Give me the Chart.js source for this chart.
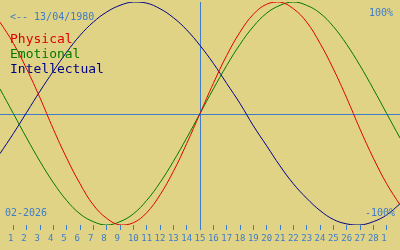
<!DOCTYPE html>
<html>
<head>
<meta charset="utf-8">
<script src="https://cdn.jsdelivr.net/npm/chart.js@4.4.1/dist/chart.umd.min.js"></script>
<style>
  html, body { margin: 0; padding: 0; background: #e0d385; }
  #wrap { width: 400px; height: 250px; }
</style>
</head>
<body>
<div id="wrap"><canvas id="bioChart" width="400" height="250"></canvas></div>
<script>
// Jours du mois (index 0 = veille du 1er, 30 = lendemain du 1er mars)
const days = [0, 1, 2, 3, 4, 5, 6, 7, 8, 9, 10, 11, 12, 13, 14, 15, 16, 17, 18, 19, 20, 21, 22, 23, 24, 25, 26, 27, 28, 29, 30];

// Valeurs (-1 = -100%, 1 = 100%)
const physical = [0.82, 0.63, 0.40, 0.14, -0.14, -0.40, -0.63, -0.82, -0.94, -1.00, -0.98, -0.89, -0.73, -0.52, -0.27, 0,
                  0.27, 0.52, 0.73, 0.89, 0.98, 1.00, 0.94, 0.82, 0.63, 0.40, 0.14, -0.14, -0.40, -0.63, -0.82];
const emotional = [0.22, 0, -0.22, -0.43, -0.62, -0.78, -0.90, -0.97, -1.00, -0.97, -0.90, -0.78, -0.62, -0.43, -0.22, 0,
                   0.22, 0.43, 0.62, 0.78, 0.90, 0.97, 1.00, 0.97, 0.90, 0.78, 0.62, 0.43, 0.22, 0, -0.22];
const intellectual = [-0.36, -0.18, 0.01, 0.20, 0.38, 0.55, 0.70, 0.82, 0.91, 0.97, 1.00, 0.99, 0.94, 0.86, 0.75, 0.61,
                      0.45, 0.27, 0.09, -0.11, -0.29, -0.47, -0.63, -0.76, -0.87, -0.95, -0.99, -1.00, -0.97, -0.91, -0.81];

// Graduations de l'axe des jours
const tickValues = [1, 2, 3, 4, 5, 6, 7, 8, 9, 10, 11, 12, 13, 14, 15, 16, 17, 18, 19, 20, 21, 22, 23, 24, 25, 26, 27, 28, 29];
const tickLabels = ['1', '2', '3', '4', '5', '6', '7', '8', '9', '10', '11', '12', '13', '14', '15', '16', '17', '18', '19',
                    '20', '21', '22', '23', '24', '25', '26', '27', '28', '1'];
const todayIndex = 15;
const baseLevel = -0.013;   // ligne horizontale du zéro

const BLUE = '#3d7cc9';
const MONO = '"DejaVu Sans Mono", monospace';

function toPoints(values) {
    return values.map((v, i) => ({ x: days[i], y: v }));
}

// Textes superposés (date de naissance, légende, pourcentages)
const overlayText = {
    id: 'overlayText',
    afterDraw(chart) {
        const ctx = chart.ctx;
        ctx.save();
        ctx.textBaseline = 'alphabetic';
        ctx.font = '10px ' + MONO;
        ctx.fillStyle = BLUE;
        ctx.textAlign = 'left';
        ctx.fillText('<-- 13/04/1980', 10, 20);
        ctx.fillText('02-2026', 5, 216);
        ctx.textAlign = 'right';
        ctx.fillText('100%', 393, 16);
        ctx.fillText('-100%', 395, 216);

        ctx.textAlign = 'left';
        ctx.font = '13px ' + MONO;
        chart.data.datasets.forEach((ds, i) => {
            ctx.fillStyle = ds.borderColor;
            ctx.fillText(ds.label, 10, 43 + i * 15);
        });
        ctx.restore();
    }
};

new Chart(document.getElementById('bioChart'), {
    type: 'line',
    data: {
        datasets: [
            { label: 'Physical', data: toPoints(physical), borderColor: '#e00000' },
            { label: 'Emotional', data: toPoints(emotional), borderColor: '#007800' },
            { label: 'Intellectual', data: toPoints(intellectual), borderColor: '#000088' }
        ]
    },
    options: {
        responsive: false,
        animation: false,
        layout: { padding: { top: 2, left: 0, right: 0, bottom: 0 } },
        elements: {
            line: { borderWidth: 1, tension: 0.4, fill: false },
            point: { radius: 0 }
        },
        plugins: {
            legend: { display: false },
            tooltip: { enabled: false }
        },
        scales: {
            x: {
                type: 'linear',
                min: 0,
                max: 30,
                afterBuildTicks: (axis) => { axis.ticks = tickValues.map(v => ({ value: v })); },
                afterFit: (axis) => { axis.height = 25; },
                border: { display: false },
                grid: {
                    drawOnChartArea: true,
                    tickLength: 5,
                    tickColor: BLUE,
                    color: (c) => (c.tick && c.tick.value === todayIndex) ? BLUE : 'rgba(0,0,0,0)'
                },
                ticks: {
                    color: BLUE,
                    font: { family: MONO, size: 9 },
                    padding: 3,
                    maxRotation: 0,
                    autoSkip: false,
                    callback: (value, index) => {
                        const lbl = tickLabels[index];
                        return lbl.length < 2 ? lbl + ' ' : lbl;
                    }
                }
            },
            y: {
                min: -1,
                max: 1,
                afterBuildTicks: (axis) => { axis.ticks = [{ value: baseLevel }]; },
                afterFit: (axis) => { axis.width = 0; },
                border: { display: false },
                grid: { color: BLUE, drawTicks: false },
                ticks: { display: false }
            }
        }
    },
    plugins: [overlayText]
});
</script>
</body>
</html>
